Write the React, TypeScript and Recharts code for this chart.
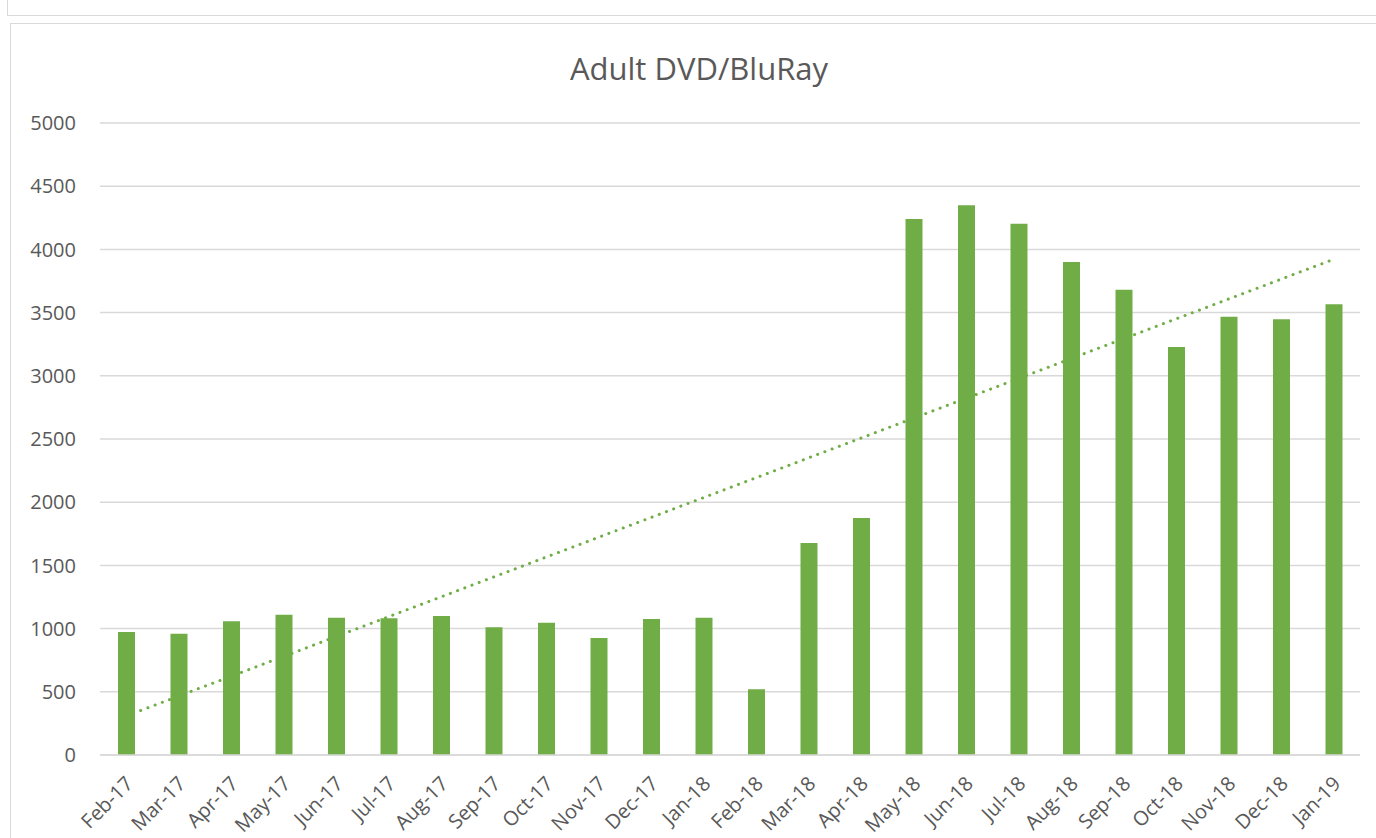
import React from "react";
import {
  ComposedChart,
  Bar,
  XAxis,
  YAxis,
  CartesianGrid,
  ReferenceLine,
} from "recharts";

const months = [
  "Feb-17", "Mar-17", "Apr-17", "May-17", "Jun-17", "Jul-17",
  "Aug-17", "Sep-17", "Oct-17", "Nov-17", "Dec-17", "Jan-18",
  "Feb-18", "Mar-18", "Apr-18", "May-18", "Jun-18", "Jul-18",
  "Aug-18", "Sep-18", "Oct-18", "Nov-18", "Dec-18", "Jan-19",
];

const loans = [
  973, 960, 1058, 1110, 1086, 1081,
  1100, 1010, 1047, 926, 1076, 1086,
  520, 1677, 1875, 4240, 4349, 4203,
  3900, 3681, 3228, 3468, 3447, 3566,
];

const yTicks = [0, 500, 1000, 1500, 2000, 2500, 3000, 3500, 4000, 4500, 5000];

// linear trendline ends
const trendStart = 309;
const trendEnd = 3922;

const data = months.map((m, i) => ({ m, v: loans[i] }));

const FONT = "'Open Sans', sans-serif";
const GREEN = "#70AD47";
const GREY = "#595959";
const LINE = "#d9d9d9";

function MonthTick(props: any) {
  const { x, y, payload } = props;
  const ax = x + 8;
  const ay = y + 22;
  return (
    <text
      x={ax}
      y={ay}
      transform={`rotate(-45, ${ax}, ${ay})`}
      textAnchor="end"
      fill={GREY}
      fontSize={20}
      fontFamily={FONT}
    >
      {payload.value}
    </text>
  );
}

export default function App() {
  return (
    <div
      style={{
        position: "fixed",
        left: 0,
        top: 0,
        width: 1376,
        height: 838,
        overflow: "hidden",
        background: "#fff",
      }}
    >
      <div
        style={{
          position: "absolute",
          left: 7,
          top: -10,
          width: 1400,
          height: 24,
          border: `1.5px solid ${LINE}`,
        }}
      />
      <div
        style={{
          position: "absolute",
          left: 10,
          top: 23,
          width: 1400,
          height: 900,
          border: `1.5px solid ${LINE}`,
        }}
      />
      <div
        style={{
          position: "absolute",
          left: 0,
          top: 47,
          width: 1398,
          textAlign: "center",
          fontFamily: FONT,
          fontSize: 31,
          color: GREY,
        }}
      >
        Adult DVD/BluRay
      </div>
      <div style={{ position: "absolute", left: 0, top: 0 }}>
        <ComposedChart
          width={1376}
          height={838}
          data={data}
          margin={{ top: 123, right: 16, left: 0, bottom: 0 }}
        >
          <CartesianGrid vertical={false} stroke={LINE} strokeWidth={1.5} />
          <XAxis
            dataKey="m"
            height={83}
            interval={0}
            tickLine={false}
            axisLine={{ stroke: LINE, strokeWidth: 1.5 }}
            tick={<MonthTick />}
          />
          <YAxis
            width={100}
            domain={[0, 5000]}
            ticks={yTicks}
            axisLine={false}
            tickLine={false}
            tickSize={0}
            tickMargin={24}
            tick={{ fill: GREY, fontSize: 20, fontFamily: FONT }}
          />
          <Bar dataKey="v" fill={GREEN} barSize={17} isAnimationActive={false} />
          <ReferenceLine
            segment={[
              { x: months[0], y: trendStart },
              { x: months[months.length - 1], y: trendEnd },
            ]}
            stroke={GREEN}
            strokeWidth={3}
            strokeDasharray="0.1 7.6"
            strokeLinecap="round"
          />
        </ComposedChart>
      </div>
    </div>
  );
}
